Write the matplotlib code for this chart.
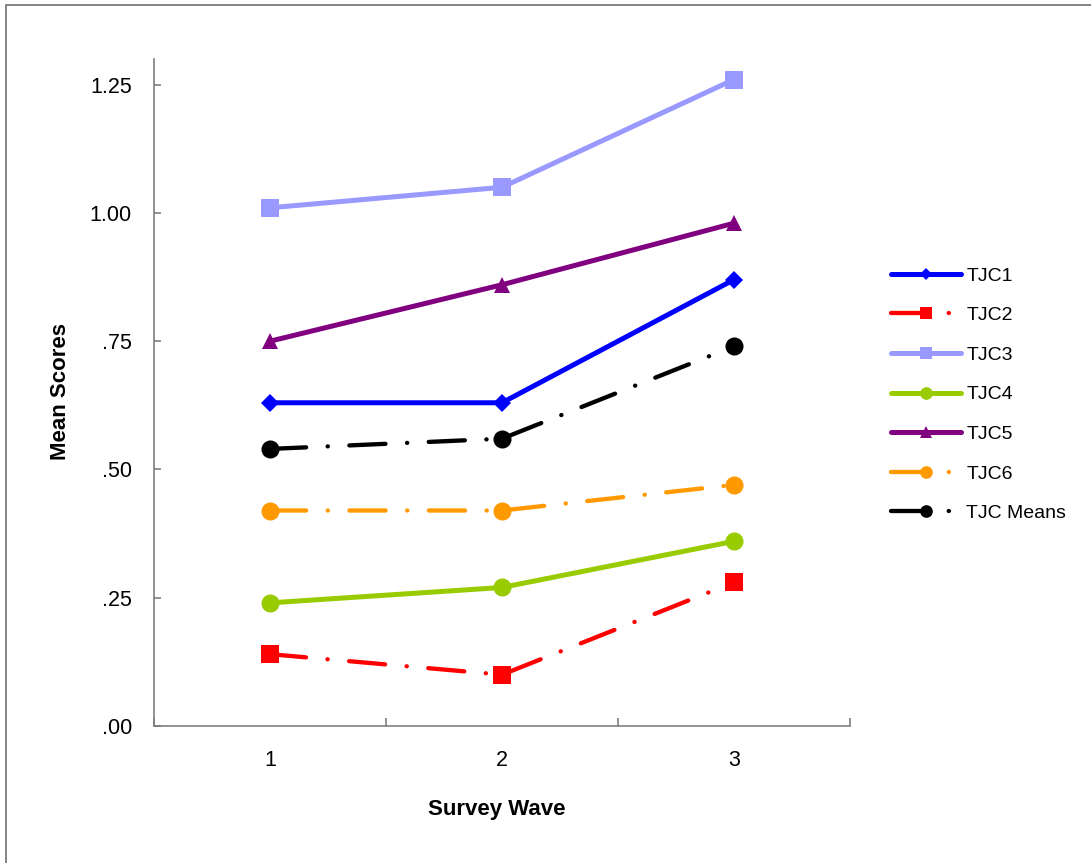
import matplotlib
matplotlib.use('Agg')
import matplotlib.pyplot as plt
from matplotlib.patches import Rectangle

plt.rcParams['font.family'] = ['Liberation Sans', 'DejaVu Sans']

waves = [1, 2, 3]
series_names = ['TJC1', 'TJC2', 'TJC3', 'TJC4', 'TJC5', 'TJC6', 'TJC Means']
tjc1 = [0.63, 0.63, 0.87]
tjc2 = [0.14, 0.10, 0.28]
tjc3 = [1.01, 1.05, 1.26]
tjc4 = [0.24, 0.27, 0.36]
tjc5 = [0.75, 0.86, 0.98]
tjc6 = [0.42, 0.42, 0.47]
tjc_means = [0.54, 0.56, 0.74]
y_ticks = [0.0, 0.25, 0.50, 0.75, 1.00, 1.25]
y_tick_labels = ['.00', '.25', '.50', '.75', '1.00', '1.25']

W, H = 1091, 863
fig = plt.figure(figsize=(W / 100, H / 100), dpi=100)
ax = fig.add_axes([154 / W, 1 - 726 / H, (850 - 154) / W, (726 - 59) / H])

# outer chart border (only left and top visible in the original)
fig.patches.append(Rectangle((6 / W, -0.1), 1.2, 1 - 5 / H + 0.1, transform=fig.transFigure,
                             fill=False, edgecolor='#6f6f6f', linewidth=1.2))

dashdot = (0, (8.4, 5.0, 0.05, 5.0))
styles = [
    dict(color='#0000ff', marker='D', ms=9, ls='-', lw=3.6),
    dict(color='#ff0000', marker='s', ms=12.5, ls=dashdot, lw=3.1),
    dict(color='#9999ff', marker='s', ms=12.5, ls='-', lw=3.6),
    dict(color='#99cc00', marker='o', ms=13, ls='-', lw=3.6),
    dict(color='#800080', marker='^', ms=12, ls='-', lw=3.6),
    dict(color='#ff9900', marker='o', ms=13, ls=dashdot, lw=3.1),
    dict(color='#000000', marker='o', ms=13, ls=dashdot, lw=3.1),
]
all_values = [tjc1, tjc2, tjc3, tjc4, tjc5, tjc6, tjc_means]

for name, vals, st in zip(series_names, all_values, styles):
    ax.plot(waves, vals, color=st['color'], linestyle=st['ls'], linewidth=st['lw'],
            marker=st['marker'], markersize=st['ms'], markeredgewidth=0,
            dash_capstyle='round', solid_capstyle='round', label=name)

ax.set_xlim(0.5, 3.5)
ax.set_ylim(0, 1.30)

for side in ['top', 'right']:
    ax.spines[side].set_visible(False)
for side in ['left', 'bottom']:
    ax.spines[side].set_color('#7f7f7f')
    ax.spines[side].set_linewidth(1.2)

ax.set_yticks(y_ticks)
ax.set_yticklabels(y_tick_labels)
ax.tick_params(axis='y', direction='in', length=5, width=1.2, color='#7f7f7f',
               labelsize=15.5, pad=16)

ax.set_xticks([0.5, 1.5, 2.5, 3.5])
ax.set_xticklabels([])
ax.set_xticks(waves, minor=True)
ax.set_xticklabels([str(w) for w in waves], minor=True)
ax.tick_params(axis='x', which='major', direction='in', length=6, width=1.2, color='#7f7f7f')
ax.tick_params(axis='x', which='minor', length=0, labelsize=15.5, pad=17)

fig.text(60 / W, 1 - 392 / H, 'Mean Scores', rotation=90, ha='center', va='center',
         fontsize=16, fontweight='bold')
fig.text(497 / W, 1 - 809 / H, 'Survey Wave', ha='center', va='center',
         fontsize=16, fontweight='bold')

leg = ax.legend(loc='upper left', bbox_to_anchor=(891 / W, 1 - 267 / H),
                bbox_transform=fig.transFigure, frameon=False, fontsize=14,
                borderpad=0, borderaxespad=0, handlelength=3.6, handletextpad=0.28,
                labelspacing=1.13, markerscale=0.7, numpoints=1)

fig.savefig('out.png', dpi=100)
